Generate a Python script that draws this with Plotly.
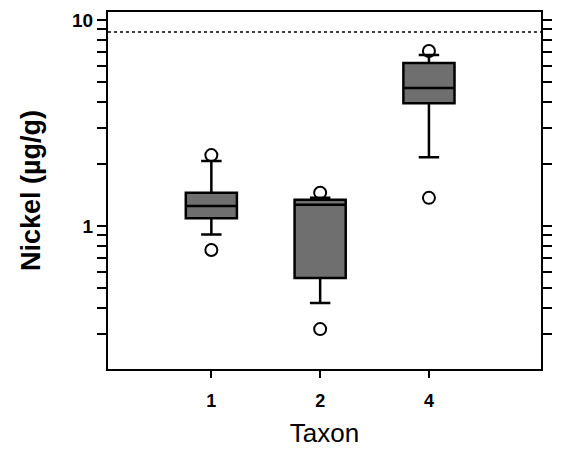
import plotly.graph_objects as go

# ---- data ----
taxa = ["1", "2", "4"]
q1 = [1.09, 0.56, 3.95]
median = [1.25, 1.27, 4.68]
q3 = [1.45, 1.34, 6.18]
lower_whisker = [0.91, 0.423, 2.16]
upper_whisker = [2.07, 1.37, 6.76]
outlier_taxa = ["1", "1", "2", "2", "4", "4"]
outlier_vals = [2.21, 0.765, 1.45, 0.316, 7.07, 1.37]
reference_level = 8.75
ytick_vals = [0.2, 0.3, 0.4, 0.5, 0.6, 0.7, 0.8, 0.9, 1,
              2, 3, 4, 5, 6, 7, 8, 9, 10]
ytick_text = ["", "", "", "", "", "", "", "", "1",
              "", "", "", "", "", "", "", "", "10"]

font_family = "Liberation Sans, Arial, sans-serif"

fig = go.Figure()
fig.add_trace(go.Box(
    x=taxa,
    q1=q1, median=median, q3=q3,
    lowerfence=lower_whisker, upperfence=upper_whisker,
    fillcolor="#6f6f6f",
    line=dict(color="black", width=2.5),
    whiskerwidth=0.4,
    width=0.47,
    boxpoints=False,
    showlegend=False,
    hoverinfo="skip",
))
fig.add_trace(go.Scatter(
    x=outlier_taxa, y=outlier_vals,
    mode="markers",
    marker=dict(symbol="circle-open", size=12, color="black",
                line=dict(width=2, color="black")),
    showlegend=False,
    hoverinfo="skip",
))
fig.add_shape(type="line", xref="paper", x0=0, x1=1, yref="y",
              y0=reference_level, y1=reference_level,
              line=dict(color="black", width=1.6, dash="dot"))

fig.update_layout(
    width=561, height=457,
    margin=dict(l=100, r=28, t=4, b=96),
    paper_bgcolor="white", plot_bgcolor="white",
    font=dict(family=font_family, color="black"),
    xaxis=dict(
        type="category",
        categoryorder="array", categoryarray=taxa,
        range=[-0.95, 3.03],
        automargin=False,
        showgrid=False, zeroline=False,
        showline=True, linecolor="black", linewidth=2, mirror=True,
        ticks="outside", ticklen=7, tickwidth=2, tickcolor="black",
        ticklabelstandoff=7,
        tickfont=dict(size=18, weight="bold", family=font_family),
        title=dict(text="Taxon", font=dict(size=26, family=font_family), standoff=14),
    ),
    yaxis=dict(
        type="log",
        range=[-0.694, 1.039],
        automargin=False,
        tickvals=ytick_vals, ticktext=ytick_text,
        showgrid=False, zeroline=False,
        showline=True, linecolor="black", linewidth=2, mirror="ticks",
        ticks="outside", ticklen=9, tickwidth=2, tickcolor="black",
        tickfont=dict(size=19, weight="bold", family=font_family),
        title=dict(text="Nickel (µg/g)", font=dict(size=27, weight="bold", family=font_family), standoff=24),
    ),
)

fig.write_html("out.html")
